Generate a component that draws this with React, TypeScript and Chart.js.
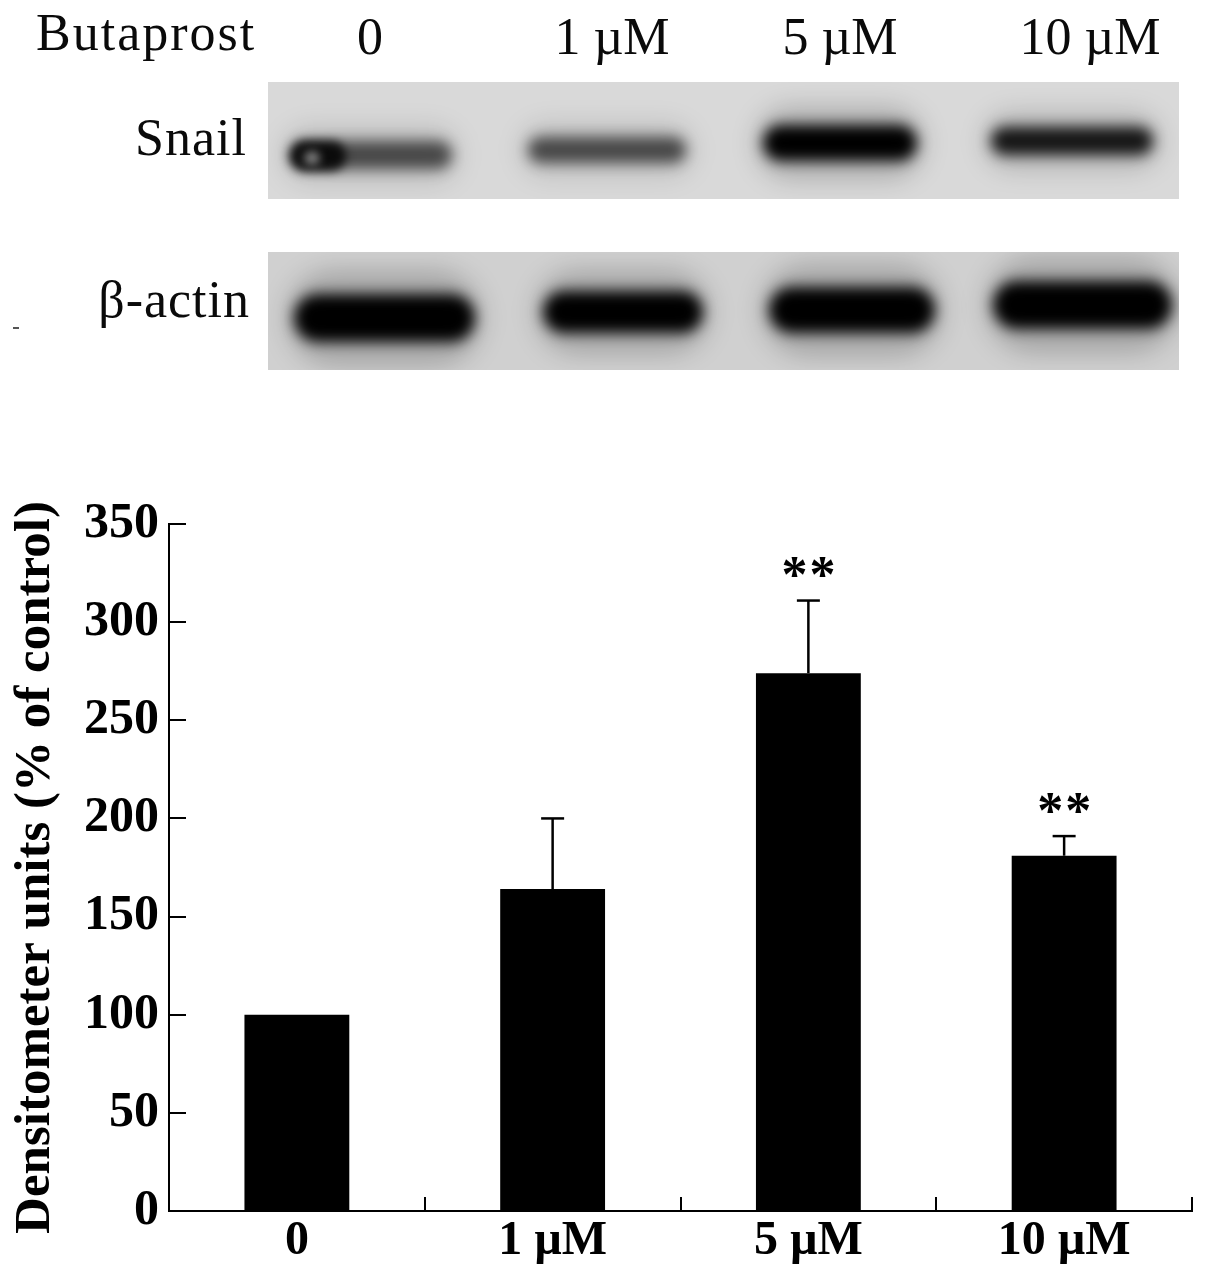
import React, { useEffect, useRef } from "react";
import { Chart, registerables } from "chart.js";

Chart.register(...registerables);

// ---------------- data ----------------
const categories = ["0", "1 µM", "5 µM", "10 µM"];
const meanValues = [100, 164, 274, 181];
const errorValues = [0, 36, 37, 10];
const significance = ["", "", "**", "**"];
const yMin = 0;
const yMax = 350;
const yStep = 50;
const yTitle = "Densitometer units (% of control)";

const treatmentLabel = "Butaprost";
const laneLabels = ["0", "1 µM", "5 µM", "10 µM"];
const blotRows = ["Snail", "β-actin"];
const snailBandIntensity = [0.62, 0.62, 1, 0.88];
const actinBandIntensity = [1, 1, 1, 1];

// ---------------- layout / style constants ----------------
const SERIF = '"Liberation Serif", "Times New Roman", Times, serif';
const LANE_LABEL_CENTERS = [370, 612, 840, 1090];
const PANEL_LEFT = 268;
const PANEL_WIDTH = 911;
const PANELS = [
  { top: 82, height: 117, labelBaseline: 155, labelRight: 247, bg: "#d9d9d9" },
  { top: 252, height: 118, labelBaseline: 317, labelRight: 250, bg: "#d0d0d0" },
];
const BANDS = [
  [
    { x0: 287, x1: 455, cy: 155, h: 28 },
    { x0: 525, x1: 689, cy: 150, h: 26 },
    { x0: 760, x1: 920, cy: 143, h: 36 },
    { x0: 988, x1: 1156, cy: 141, h: 28 },
  ],
  [
    { x0: 291, x1: 478, cy: 318, h: 48 },
    { x0: 540, x1: 706, cy: 312, h: 42 },
    { x0: 766, x1: 938, cy: 310, h: 46 },
    { x0: 990, x1: 1175, cy: 305, h: 48 },
  ],
];

const decorPlugin = {
  id: "decor",
  afterDatasetsDraw(chart: any) {
    const ctx = chart.ctx;
    const xs = chart.scales.x;
    const ys = chart.scales.y;
    const area = chart.chartArea;
    ctx.save();
    ctx.strokeStyle = "#000";
    ctx.fillStyle = "#000";
    ctx.lineWidth = 2;
    ctx.lineCap = "butt";
    const line = (x1: number, y1: number, x2: number, y2: number) => {
      ctx.beginPath();
      ctx.moveTo(x1, y1);
      ctx.lineTo(x2, y2);
      ctx.stroke();
    };
    // inward y ticks
    ys.ticks.forEach((t: any) => {
      const py = Math.round(ys.getPixelForValue(t.value));
      line(area.left, py, area.left + 17, py);
    });
    // inward x ticks at category boundaries
    for (let i = 0; i < categories.length; i++) {
      const px = Math.round(xs.getPixelForValue(i + 0.5));
      line(px, area.bottom, px, area.bottom - 14);
    }
    // error bars + significance
    const meta = chart.getDatasetMeta(0);
    meta.data.forEach((bar: any, i: number) => {
      const cx = bar.x;
      let topY = ys.getPixelForValue(meanValues[i]);
      if (errorValues[i] > 0) {
        ctx.lineWidth = 2.5;
        const base = ys.getPixelForValue(meanValues[i]);
        topY = ys.getPixelForValue(meanValues[i] + errorValues[i]);
        line(cx, base, cx, topY);
        line(cx - 11.5, topY, cx + 11.5, topY);
      }
      if (significance[i]) {
        const size = 52;
        ctx.font = `bold ${size}px ${SERIF}`;
        ctx.textAlign = "center";
        ctx.textBaseline = "alphabetic";
        const starCenter = topY - 33;
        const n = significance[i].length;
        for (let k = 0; k < n; k++) {
          const sx = cx + (k - (n - 1) / 2) * 28;
          ctx.fillText("*", sx, starCenter + size * 0.47);
        }
      }
    });
    ctx.restore();
  },
};

function BarChart() {
  const ref = useRef<HTMLCanvasElement | null>(null);
  useEffect(() => {
    if (!ref.current) return;
    const chart = new Chart(ref.current, {
      type: "bar",
      data: {
        labels: categories,
        datasets: [
          {
            data: meanValues,
            backgroundColor: "#000",
            borderWidth: 0,
            categoryPercentage: 1,
            barPercentage: 0.41,
          },
        ],
      },
      options: {
        responsive: false,
        animation: false,
        devicePixelRatio: 1,
        layout: { padding: { top: 64, right: 13, left: 0, bottom: 0 } },
        plugins: { legend: { display: false }, tooltip: { enabled: false } },
        scales: {
          x: {
            grid: { display: false, drawTicks: false },
            border: { display: true, color: "#000", width: 2 },
            ticks: {
              color: "#000",
              padding: 2,
              maxRotation: 0,
              font: { family: SERIF, size: 48, weight: "bold", lineHeight: 1.2 },
            },
            afterFit: (s: any) => {
              s.height = 69;
            },
          },
          y: {
            min: yMin,
            max: yMax,
            grid: { display: false, drawTicks: false },
            border: { display: true, color: "#000", width: 2 },
            ticks: {
              stepSize: yStep,
              color: "#000",
              padding: 10,
              font: { family: SERIF, size: 50, weight: "bold", lineHeight: 1.2 },
            },
            title: {
              display: true,
              text: yTitle,
              color: "#000",
              padding: { top: 5, bottom: 0 },
              font: { family: SERIF, size: 51, weight: "bold", lineHeight: 1.2 },
            },
            afterFit: (s: any) => {
              s.width = 169;
            },
          },
        },
      },
      plugins: [decorPlugin],
    } as any);
    return () => chart.destroy();
  }, []);
  return (
    <canvas
      ref={ref}
      width={1205}
      height={820}
      style={{ position: "absolute", left: 0, top: 460, display: "block" }}
    />
  );
}

function Blot() {
  const textStyle: React.CSSProperties = {
    position: "absolute",
    fontFamily: SERIF,
    fontSize: 52,
    lineHeight: "52px",
    color: "#0a0a0a",
    whiteSpace: "nowrap",
  };
  const ascent = 43.5;
  return (
    <>
      <div style={{ ...textStyle, left: 36, top: 50 - ascent, letterSpacing: 2 }}>{treatmentLabel}</div>
      {laneLabels.map((l, i) => (
        <div
          key={l}
          style={{ ...textStyle, left: LANE_LABEL_CENTERS[i] - 100, width: 200, textAlign: "center", top: 54 - ascent }}
        >
          {l}
        </div>
      ))}
      {PANELS.map((p, r) => {
        const intens = r === 0 ? snailBandIntensity : actinBandIntensity;
        return (
          <React.Fragment key={r}>
            <div
              style={{
                ...textStyle,
                left: 0,
                width: p.labelRight,
                textAlign: "right",
                top: p.labelBaseline - ascent,
                letterSpacing: 1,
              }}
            >
              {blotRows[r]}
            </div>
            <div
              style={{
                position: "absolute",
                left: PANEL_LEFT,
                top: p.top,
                width: PANEL_WIDTH,
                height: p.height,
                background: p.bg,
                overflow: "hidden",
              }}
            >
              {BANDS[r].map((b, i) => (
                <React.Fragment key={i}>
                  <div
                    style={{
                      position: "absolute",
                      left: b.x0 - PANEL_LEFT - 4,
                      top: b.cy - p.top - b.h,
                      width: b.x1 - b.x0 + 8,
                      height: b.h * 2,
                      borderRadius: b.h,
                      background: `rgba(0,0,0,${0.2 * intens[i]})`,
                      filter: "blur(12px)",
                    }}
                  />
                  <div
                    style={{
                      position: "absolute",
                      left: b.x0 - PANEL_LEFT + 3,
                      top: b.cy - p.top - b.h / 2,
                      width: b.x1 - b.x0 - 6,
                      height: b.h,
                      borderRadius: b.h / 2,
                      background: `rgba(0,0,0,${intens[i]})`,
                      filter: "blur(7px)",
                    }}
                  />
                </React.Fragment>
              ))}
              {r === 0 && (
                <>
                  <div
                    style={{
                      position: "absolute",
                      left: 290 - PANEL_LEFT,
                      top: 156 - p.top - 15,
                      width: 56,
                      height: 30,
                      borderRadius: 15,
                      background: "rgba(0,0,0,0.85)",
                      filter: "blur(5px)",
                    }}
                  />
                  <div
                    style={{
                      position: "absolute",
                      left: 304 - PANEL_LEFT,
                      top: 158 - p.top - 7,
                      width: 16,
                      height: 14,
                      borderRadius: 8,
                      background: "rgba(150,150,150,0.8)",
                      filter: "blur(4px)",
                    }}
                  />
                </>
              )}
            </div>
          </React.Fragment>
        );
      })}
      <div style={{ position: "absolute", left: 13, top: 327, width: 6, height: 2, background: "#555" }} />
    </>
  );
}

export default function App() {
  return (
    <div
      style={{
        position: "absolute",
        left: 0,
        top: 0,
        width: 1205,
        height: 1280,
        background: "#fff",
        overflow: "hidden",
      }}
    >
      <Blot />
      <BarChart />
    </div>
  );
}
